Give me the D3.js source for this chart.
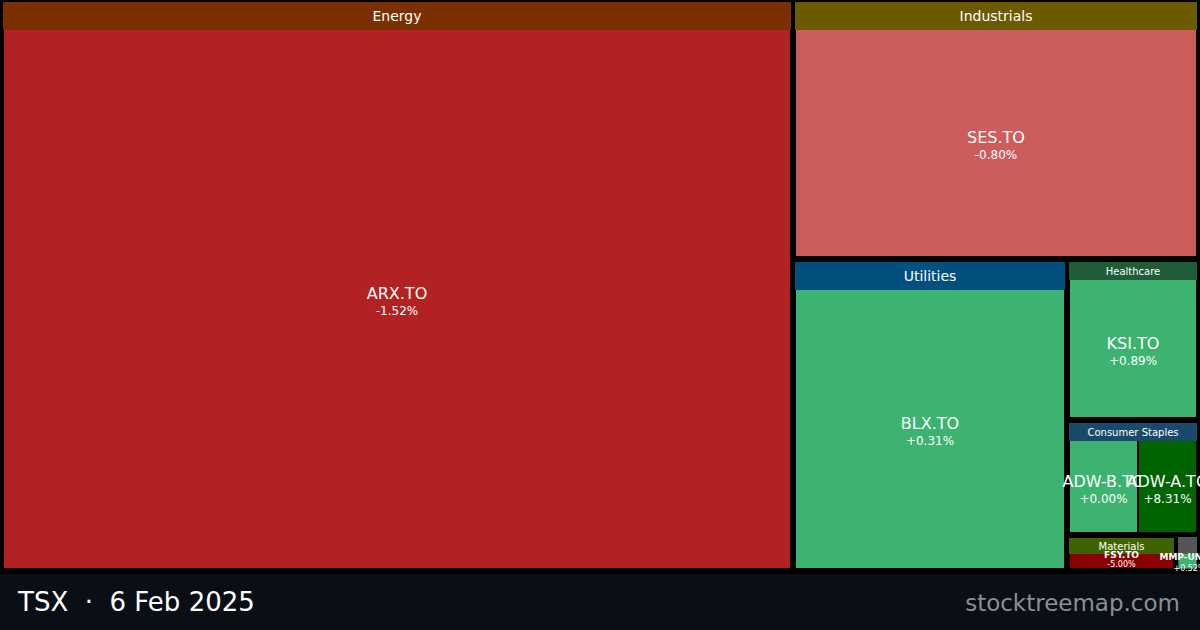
<!DOCTYPE html><html><head><meta charset="utf-8"><script src="https://cdn.jsdelivr.net/npm/d3@7"></script>
<style>body{margin:0;background:#000;font-family:"DejaVu Sans",sans-serif}</style></head><body><svg id="c" width="1200" height="630"></svg>
<script>
const sectors=["Energy","Industrials","Utilities","Healthcare","Consumer Staples","Materials","Other"];
const sectorColors=["#7a3000","#6b5a00","#00507f","#1e5c3a","#1a4a6b","#3f6300","#555555"];
const tickers=["ARX.TO","SES.TO","BLX.TO","KSI.TO","ADW-B.TO","ADW-A.TO","FSY.TO","MMP-UN.TO"];
const tickerSector=["Energy","Industrials","Utilities","Healthcare","Consumer Staples","Consumer Staples","Materials","Other"];
const marketCap=[450,105,85,21.1,8.2,7.0,3.9,0.8];
const changes=[-1.52,-0.80,0.31,0.89,0.00,8.31,-5.00,0.52];
const W=1200,H=572;
function col(c){if(c<=-3)return"#8b0000";if(c<-1)return"#b22222";if(c<0)return"#cd5c5c";if(c<3)return"#3cb371";return"#006400";}
const root=d3.hierarchy({children:sectors.map((s,i)=>({name:s,ci:i,children:tickers.map((t,j)=>({name:t,v:marketCap[j],ch:changes[j],s:tickerSector[j]})).filter(d=>d.s===s)}))}).sum(d=>d.v||0).sort((a,b)=>b.value-a.value);
const hdrH=d=>d.data.name==="Other"?2:d.value>50?30:d.value>10?20:18;
d3.treemap().tile(d3.treemapBinary).size([W,H]).paddingOuter(2).paddingInner(2).paddingTop(d=>d.depth===1?hdrH(d):0).round(true)(root);
const svg=d3.select("#c");
svg.append("rect").attr("width",W).attr("height",630).attr("fill","#000");
root.children.forEach(s=>{
 const w=s.x1-s.x0;
 if(s.data.name==="Other"){svg.append("rect").attr("x",s.x0+1).attr("y",s.y0+1).attr("width",w-2).attr("height",s.y1-s.y0-2).attr("fill",sectorColors[s.data.ci]);return;}
 const h=hdrH(s)-2;
 svg.append("rect").attr("x",s.x0+1).attr("y",s.y0+2).attr("width",w-2).attr("height",h).attr("fill",sectorColors[s.data.ci]);
 svg.append("text").attr("x",(s.x0+s.x1)/2).attr("y",s.y0+2+h/2+(s.value>50?5:4)).attr("text-anchor","middle").attr("fill","#fff").attr("font-weight",500).attr("font-size",s.value>50?14:10).text(s.data.name);
});
root.leaves().forEach(l=>{
 const w=l.x1-l.x0,h=l.y1-l.y0;
 const other=l.parent.data.name==="Other";
 svg.append("rect").attr("x",l.x0).attr("y",other?l.y0+16:l.y0).attr("width",w).attr("height",other?h-16:h).attr("fill",col(l.data.ch));
 const cx=(l.x0+l.x1)/2,cy=(l.y0+l.y1)/2;
 const small=h<40;
 svg.append("text").attr("x",small?cx+(other?2:0):cx).attr("y",small?l.y0+(other?22:4):cy).attr("text-anchor","middle").attr("fill","#fff").attr("font-size",small?9:16).attr("font-weight",small?600:500).text(l.data.name);
 const s=(l.data.ch>=0?"+":"")+l.data.ch.toFixed(2)+"%";
 svg.append("text").attr("x",small?cx+(other?2:0):cx).attr("y",small?l.y0+(other?33:13):cy+16).attr("text-anchor","middle").attr("fill","#fff").attr("font-size",small?8:12).text(s);
});
svg.append("rect").attr("y",574).attr("width",W).attr("height",56).attr("fill","#0a0e15");
svg.append("text").attr("x",18).attr("y",611).attr("fill","#fff").attr("font-size",26).attr("font-weight",500).style("white-space","pre").text("TSX  ·  6 Feb 2025");
svg.append("text").attr("x",1180).attr("y",611).attr("text-anchor","end").attr("fill","#8a8f98").attr("font-size",23).text("stocktreemap.com");
</script></body></html>
